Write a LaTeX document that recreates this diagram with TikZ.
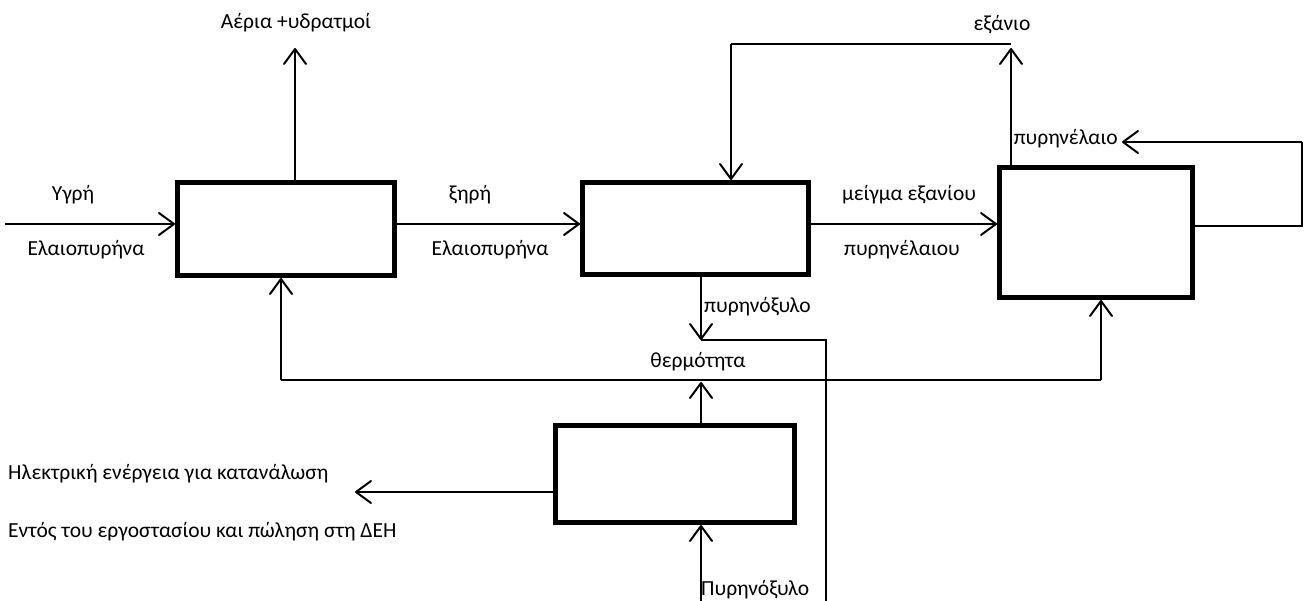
\documentclass[tikz,border=0pt]{standalone}
\usepackage{fontspec}
\setmainfont{Carlito}
\usetikzlibrary{arrows.meta}
\begin{document}
\begin{tikzpicture}[x=1pt,y=-1pt,
  proc/.style={draw, line width=5pt, inner sep=0pt},
  arr/.style={line width=2pt, -{Straight Barb[length=15pt,width=22pt,round]}},
  plain/.style={line width=1.5pt},
  lbl/.style={font=\fontsize{21.5}{25}\selectfont, inner sep=0pt}]
  \useasboundingbox[fill=white] (0,0) rectangle (1308,601);

  % process blocks
  \node[proc, minimum width=217pt, minimum height=93pt]  (b1) at (286,229) {};
  \node[proc, minimum width=226pt, minimum height=92pt]  (b2) at (695.5,228.5) {};
  \node[proc, minimum width=193pt, minimum height=130pt] (b3) at (1096,232.5) {};
  \node[proc, minimum width=239pt, minimum height=97pt]  (b4) at (675,474) {};

  % free ends of the streams
  \coordinate (inp)     at (5,224);
  \coordinate (gasTip)  at (295,48);
  \coordinate (hexTip)  at (1011,48);
  \coordinate (fbA)     at (1011,44);
  \coordinate (fbB)     at (731,44);
  \coordinate (loopR)   at (1302,226);
  \coordinate (oilTip)  at (1122,142);
  \coordinate (woodTip) at (701,340);
  \coordinate (woodOut) at (826,601);
  \coordinate (heatL)   at (281,380);
  \coordinate (heatR)   at (1101,380);
  \coordinate (heatTip) at (701,382);
  \coordinate (fuelIn)  at (701,601);
  \coordinate (elecTip) at (355,492);

  % main line
  \draw[arr] (inp) -- (inp -| b1.west);
  \draw[arr] (b1.east |- inp) -- (b2.west |- inp);
  \draw[arr] (b2.east |- inp) -- (b3.west |- inp);

  % vapours and hexane
  \draw[arr] (gasTip |- b1.north) -- (gasTip);
  \draw[arr] (hexTip |- b3.north) -- (hexTip);
  \draw[plain] (fbA) -- (fbB);
  \draw[arr] (fbB) -- (fbB |- b2.north);

  % oil recycle
  \draw[plain] (b3.east |- loopR) -- (loopR) -- (loopR |- oilTip);
  \draw[arr] (loopR |- oilTip) -- (oilTip);

  % pomace wood
  \draw[arr] (woodTip |- b2.south) -- (woodTip);
  \draw[plain] (woodTip) -- (woodTip -| woodOut) -- (woodOut);

  % heat distribution
  \draw[plain] (heatL) -- (heatR);
  \draw[arr] (heatL) -- (heatL |- b1.south);
  \draw[arr] (heatR) -- (heatR |- b3.south);
  \draw[arr] (heatTip |- b4.north) -- (heatTip);

  % boiler / generator
  \draw[arr] (fuelIn) -- (fuelIn |- b4.south);
  \draw[arr] (b4.west |- elecTip) -- (elecTip);

  % labels
  \node[lbl] (tGas)  at (296,23)  {Αέρια +υδρατμοί};
  \node[lbl] (tWet1) at (73,195)  {Υγρή};
  \node[lbl] (tWet2) at (86,250)  {Ελαιοπυρήνα};
  \node[lbl] (tDry1) at (470,195) {ξηρή};
  \node[lbl] (tDry2) at (490,250) {Ελαιοπυρήνα};
  \node[lbl] (tMix1) at (909,195) {μείγμα εξανίου};
  \node[lbl] (tMix2) at (902,250) {πυρηνέλαιου};
  \node[lbl] (tHex)  at (1002,25) {εξάνιο};
  \node[lbl, anchor=east] (tOil) at (1118,139) {πυρηνέλαιο};
  \node[lbl, anchor=west] (tWood) at (704,307) {πυρηνόξυλο};
  \node[lbl] (tHeat) at (698,362) {θερμότητα};
  \node[lbl, anchor=west] (tFuel) at (701,590) {Πυρηνόξυλο};
  \node[lbl, anchor=west] (tEl1) at (8,474) {Ηλεκτρική ενέργεια για κατανάλωση};
  \node[lbl, anchor=west] (tEl2) at (8,532) {Εντός του εργοστασίου και πώληση στη ΔΕΗ};
\end{tikzpicture}
\end{document}
